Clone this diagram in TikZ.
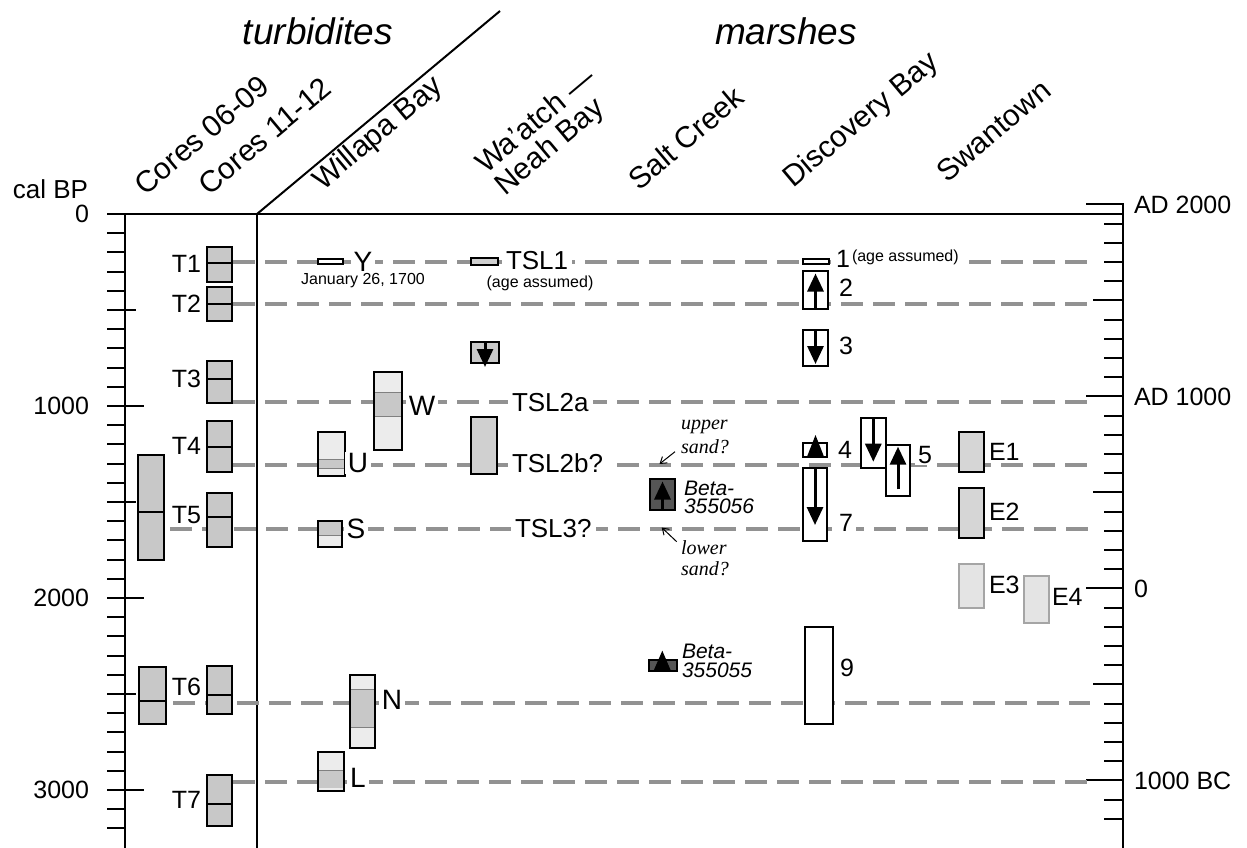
\documentclass[tikz,border=0pt]{standalone}
\usepackage{fontspec}
\setmainfont{Liberation Sans}
\newfontfamily\serifface{Liberation Serif}
\usetikzlibrary{arrows.meta}
\definecolor{dashgray}{RGB}{146,146,146}
\definecolor{coregray}{RGB}{200,200,200}
\definecolor{lightstip}{RGB}{236,236,236}
\definecolor{tslfill}{RGB}{208,208,208}
\definecolor{darkfill}{RGB}{85,85,85}
\definecolor{hatchfill}{RGB}{214,214,214}
\definecolor{egray}{RGB}{165,165,165}
\definecolor{efill}{RGB}{228,228,228}
\begin{document}
\begin{tikzpicture}[x=1pt,y=-1pt,
  every node/.style={inner sep=0pt,outer sep=0pt},
  axisline/.style={line width=2pt},
  tickline/.style={line width=2pt},
  evline/.style={line width=4pt,draw=dashgray,dash pattern=on 22pt off 10pt},
  bx/.style={draw=black,line width=2pt},
  big/.style={font=\fontsize{25}{30}\selectfont},
  lab/.style={font=\fontsize{25}{30}\selectfont,fill=white,inner xsep=3pt,inner ysep=1pt},
  letlab/.style={font=\fontsize{28}{32}\selectfont,fill=white,inner xsep=3pt,inner ysep=1pt},
  tsl/.style={font=\fontsize{26}{30}\selectfont,fill=white,inner xsep=4pt,inner ysep=1pt,anchor=west},
  site/.style={font=\fontsize{30}{34}\selectfont,rotate=40,anchor=base west},
  smalltxt/.style={font=\fontsize{16}{19}\selectfont,fill=white,inner xsep=2pt,inner ysep=1pt},
  beta/.style={font=\fontsize{21}{24}\selectfont\itshape,anchor=west},
  note/.style={font=\serifface\fontsize{20}{22}\selectfont\itshape,anchor=west},
  barr/.style={line width=3pt,-{Triangle[width=16pt,length=18pt]}},
  thinarr/.style={line width=1pt,-{Straight Barb[length=6pt,width=8pt]}},
]
\useasboundingbox (0,0) rectangle (1247,848);

% ---------- headings ----------
\node[font=\fontsize{37}{42}\selectfont\itshape] (turb) at (318,31) {turbidites};
\node[font=\fontsize{37}{42}\selectfont\itshape] (mars) at (786,31) {marshes};
\node[font=\fontsize{26}{30}\selectfont,anchor=east] (calbp) at (88,189) {cal BP};
\node[site] (h1) at (145,196) {Cores 06-09};
\node[site] (h2) at (209,196) {Cores 11-12};
\node[site] (h3) at (323,191) {Willapa Bay};
\node[site] (h4a) at (486,175) {Wa’atch —};
\node[site] (h4b) at (505,196) {Neah Bay};
\node[site] (h5) at (639,191) {Salt Creek};
\node[site] (h6) at (793,188) {Discovery Bay};
\node[site] (h7) at (947,183) {Swantown};

% ---------- frame ----------
\coordinate (tl) at (107,214);
\coordinate (tr) at (1123,214);
\coordinate (dtop) at (500,11);
\coordinate (dbot) at (257,214);
\draw[axisline] (tl) -- (tr);
\draw[axisline] (125,213) -- (125,848);
\draw[axisline] (257,213) -- (257,848);
\draw[axisline] (1123,203.4) -- (1123,848);
\draw[line width=2pt] (dbot) -- (dtop);

% left ticks
\foreach \k in {1,...,32} \draw[tickline] (107,214+19.2*\k) -- (125,214+19.2*\k);
\foreach \k in {5,15,25} \draw[tickline] (107,214+19.2*\k) -- (136,214+19.2*\k);
\foreach \k in {10,20,30} \draw[tickline] (107,214+19.2*\k) -- (144,214+19.2*\k);
% right ticks
\foreach \k in {1,...,32} \draw[tickline] (1104,204.4+19.2*\k) -- (1123,204.4+19.2*\k);
\foreach \k in {5,15,25} \draw[tickline] (1093,204.4+19.2*\k) -- (1123,204.4+19.2*\k);
\foreach \k in {0,10,20,30} \draw[tickline] (1086,204.4+19.2*\k) -- (1123,204.4+19.2*\k);

\node[big,anchor=east] (l0) at (89,214) {0};
\node[big,anchor=east] (l1) at (89,406) {1000};
\node[big,anchor=east] (l2) at (89,598) {2000};
\node[big,anchor=east] (l3) at (89,790) {3000};
\node[big,anchor=west] (r0) at (1134,204.4) {AD 2000};
\node[big,anchor=west] (r1) at (1134,396.4) {AD 1000};
\node[big,anchor=west] (r2) at (1134,588.4) {0};
\node[big,anchor=west] (r3) at (1134,780.4) {1000 BC};

% ---------- event lines ----------
\draw[evline] (233,262) -- (1090,262);
\draw[evline] (233,303.5) -- (1090,303.5);
\draw[evline] (233,401.5) -- (1090,401.5);
\draw[evline] (233,465) -- (1090,465);
\draw[evline] (170,529.3) -- (1090,529.3);
\draw[evline] (173,702.5) -- (1090,702.5);
\draw[evline] (233,781.7) -- (1090,781.7);

% ---------- core boxes ----------
\foreach \xa/\xb/\yt/\ym/\yb in {
  207/232/246.7/263.3/281.7, 207/232/286.7/304/321,
  207/232/360.7/379.3/403.3, 207/232/421/446.7/471.7,
  207/232/492.7/516.7/547.3, 207/232/665.7/695/714.3,
  207/232/775/804/826, 138/164/455/512.3/560, 139/166/666.7/701/724}
{
  \draw[bx,fill=coregray] (\xa,\yt) rectangle (\xb,\yb);
  \draw[line width=2pt] (\xa,\ym) -- (\xb,\ym);
}
\node[big,anchor=east] (t1) at (201,264) {T1};
\node[big,anchor=east] (t2) at (201,304) {T2};
\node[big,anchor=east] (t3) at (201,379) {T3};
\node[big,anchor=east] (t4) at (201,446) {T4};
\node[big,anchor=east] (t5) at (201,515) {T5};
\node[big,anchor=east] (t6) at (201,687) {T6};
\node[big,anchor=east] (t7) at (201,800) {T7};

% ---------- Willapa Bay ----------
\draw[bx,fill=white] (318,259) rectangle (343,264);
\node[letlab] (Y) at (363,262) {Y};
\node[font=\fontsize{16}{19}\selectfont] (jan) at (363,281) {January 26, 1700};
% W
\fill[lightstip] (374,372.3) rectangle (402,450);
\fill[coregray] (374,392) rectangle (402,416.7);
\draw[gray,line width=0.8pt] (374,392) -- (402,392) (374,416.7) -- (402,416.7);
\draw[bx] (374,372.3) rectangle (402,450);
\node[letlab] (W) at (422,406) {W};
% U
\fill[lightstip] (318,431.7) rectangle (345,476);
\fill[coregray] (318,459) rectangle (345,468);
\draw[gray,line width=0.8pt] (318,459) -- (345,459) (318,468) -- (345,468);
\draw[bx] (318,431.7) rectangle (345,476);
\node[letlab] (U) at (358,463) {U};
% S
\fill[lightstip] (318,521) rectangle (342,546.7);
\fill[coregray] (318,521) rectangle (342,535);
\draw[gray,line width=0.8pt] (318,535) -- (342,535);
\draw[bx] (318,521) rectangle (342,546.7);
\node[letlab] (S) at (356,529) {S};
% N
\fill[lightstip] (350,675) rectangle (375,747.7);
\fill[coregray] (350,689.3) rectangle (375,727.3);
\draw[gray,line width=0.8pt] (350,689.3) -- (375,689.3) (350,727.3) -- (375,727.3);
\draw[bx] (350,675) rectangle (375,747.7);
\node[letlab] (N) at (392,700) {N};
% L
\fill[lightstip] (318,751.7) rectangle (344,790.7);
\fill[coregray] (318,770.7) rectangle (344,788);
\draw[gray,line width=0.8pt] (318,770.7) -- (344,770.7);
\draw[bx] (318,751.7) rectangle (344,790.7);
\node[letlab] (L) at (358,778) {L};

% ---------- Wa'atch - Neah Bay ----------
\draw[bx,fill=tslfill] (470.7,258.3) rectangle (498.3,265);
\node[tsl] (tsl1) at (502,261) {TSL1};
\node[smalltxt] (aa1) at (540,283) {(age assumed)};
\draw[bx,fill=coregray] (470.7,341.7) rectangle (499,363.3);
\coordinate (wa1) at (485,342);
\coordinate (wa2) at (485,367);
\draw[barr] (wa1) -- (wa2);
\node[tsl] (tsl2a) at (508,403) {TSL2a};
\draw[bx,fill=tslfill] (471,416.7) rectangle (496.7,474.3);
\node[tsl] (tsl2b) at (508,463) {TSL2b?};
\node[tsl] (tsl3) at (511,529) {TSL3?};

% ---------- Salt Creek ----------
\draw[bx,fill=darkfill] (650,479.3) rectangle (675,510);
\coordinate (sa1) at (662.5,509);
\coordinate (sa2) at (662.5,481.5);
\draw[barr] (sa1) -- (sa2);
\node[beta] (b1a) at (684,488) {Beta-};
\node[beta] (b1b) at (684,506) {355056};
\draw[bx,fill=darkfill] (649.3,660) rectangle (676.7,671);
\fill (653.5,671) -- (671,671) -- (662.3,650.7) -- cycle;
\node[beta] (b2a) at (682,651) {Beta-};
\node[beta] (b2b) at (682,670) {355055};
\node[note] (up1) at (681,427) {upper};
\node[note] (up2) at (681,447) {sand?};
\node[note] (lo1) at (681,548) {lower};
\node[note] (lo2) at (681,569) {sand?};
\coordinate (ua1) at (675,451.7);
\coordinate (ua2) at (659.5,464);
\draw[thinarr] (ua1) -- (ua2);
\coordinate (la1) at (676.7,541.7);
\coordinate (la2) at (661.7,527.5);
\draw[thinarr] (la1) -- (la2);

% ---------- Discovery Bay ----------
\draw[bx,fill=white] (802.7,259) rectangle (829.3,264);
\node[lab,anchor=west,inner xsep=2pt] (d1) at (834,259) {1};
\node[smalltxt,anchor=west] (aa2) at (850,257) {(age assumed)};
\draw[bx,fill=white] (802.7,271) rectangle (828.3,309.3);
\draw[barr] (815.5,309) -- (815.5,273.5);
\node[lab] (d2) at (846,288) {2};
\draw[bx,fill=white] (802.7,330) rectangle (828.3,365.7);
\draw[barr] (815.5,330.5) -- (815.5,364);
\node[lab] (d3) at (846,346) {3};
\draw[bx,fill=white] (802.7,443.3) rectangle (826.7,456.7);
\fill (807,456.7) -- (824,456.7) -- (815.5,435) -- cycle;
\node[lab] (d4) at (845,450) {4};
\draw[bx,fill=white] (860.7,418.3) rectangle (886,468.3);
\draw[barr] (873.3,419) -- (873.3,461.7);
\draw[bx,fill=white] (886,445) rectangle (910,496);
\draw[barr] (898,489.3) -- (898,446.7);
\node[lab] (d5) at (925,455) {5};
\draw[bx,fill=white] (802.7,468.3) rectangle (827.3,541);
\draw[barr] (815,469) -- (815,525);
\node[lab] (d7) at (846,522.7) {7};
\draw[bx,fill=white] (805,627.3) rectangle (833.3,724);
\node[big] (d9) at (847,668) {9};

% ---------- Swantown ----------
\draw[bx,fill=hatchfill] (959,432.3) rectangle (984,471.7);
\node[lab,anchor=west] (e1) at (986,452) {E1};
\draw[bx,fill=hatchfill] (959,488.3) rectangle (984,538.3);
\node[lab,anchor=west] (e2) at (986,512) {E2};
\draw[line width=2pt,draw=egray,fill=efill] (959,564.3) rectangle (984,608.3);
\node[lab,anchor=west] (e3) at (986,585) {E3};
\draw[line width=2pt,draw=egray,fill=efill] (1024,575.7) rectangle (1049.3,622.7);
\node[big,anchor=west] (e4) at (1052,597) {E4};
\end{tikzpicture}
\end{document}
